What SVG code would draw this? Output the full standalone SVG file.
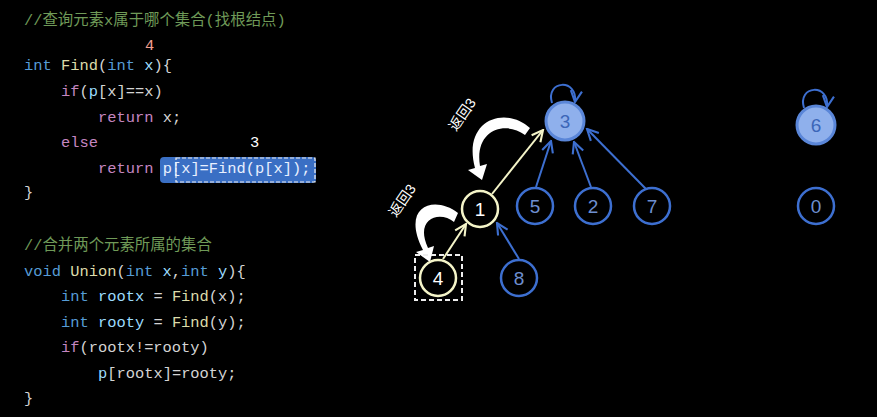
<svg xmlns="http://www.w3.org/2000/svg" width="877" height="417" viewBox="0 0 877 417">
<style>
.c{font-family:"Liberation Mono","Noto Sans CJK SC",monospace;font-size:15.4px;fill:#d4d4d4}
.cm{fill:#6f9a58}.k{fill:#569cd6}.f{fill:#c586c0}.fn{fill:#dcdcaa}.v{fill:#9cdcfe}
.n{font-family:"Liberation Sans",sans-serif;font-size:19px;text-anchor:middle}
.bn circle{fill:#000;stroke:#3d6fd0;stroke-width:2.5}
.bn text{fill:#6e8fd0}
.yn circle{fill:#000;stroke:#f4f4c8;stroke-width:2.5}
.yn text{fill:#fff}
.lbl{font-family:"Liberation Sans","Noto Sans CJK SC",sans-serif;font-size:14px;fill:#fff}
</style>
<defs>
<marker id="ab" viewBox="0 0 10 10" refX="9" refY="5" markerWidth="7" markerHeight="7" orient="auto"><path d="M1,1 L9,5 L1,9" fill="none" stroke="#3d6fd0" stroke-width="1.5"/></marker>
<marker id="ay" viewBox="0 0 10 10" refX="9" refY="5" markerWidth="7" markerHeight="7" orient="auto"><path d="M1,1 L9,5 L1,9" fill="none" stroke="#f4f4c8" stroke-width="1.5"/></marker>
</defs>
<rect width="877" height="417" fill="#000"/>
<g id="code">
<rect x="160" y="157" width="156" height="26" rx="4" fill="#3a6fc4"/>
<rect x="176" y="158" width="139" height="24" fill="none" stroke="#eee" stroke-width="1.2" stroke-dasharray="4,2"/>
<text class="c cm" x="24" y="25">//查询元素x属于哪个集合(找根结点)</text>
<text class="c" x="145" y="50" fill="#f08a80" style="fill:#f4a090">4</text>
<text class="c" x="24" y="70"><tspan class="k">int</tspan> <tspan class="fn">Find</tspan>(<tspan class="k">int</tspan> <tspan class="v">x</tspan>){</text>
<text class="c" x="61" y="96"><tspan class="f">if</tspan>(<tspan class="v">p</tspan>[x]==x)</text>
<text class="c" x="98" y="122"><tspan class="f">return</tspan> x;</text>
<text class="c" x="61" y="147"><tspan class="f">else</tspan></text>
<text class="c" x="250" y="147" style="fill:#fff">3</text>
<text class="c" x="98" y="173"><tspan class="f">return</tspan> <tspan style="fill:#e8f0ff">p[x]=Find(p[x]);</tspan></text>
<text class="c" x="24" y="197">}</text>
<text class="c cm" x="24" y="250">//合并两个元素所属的集合</text>
<text class="c" x="24" y="276"><tspan class="k">void</tspan> <tspan class="fn">Union</tspan>(<tspan class="k">int</tspan> <tspan class="v">x</tspan>,<tspan class="k">int</tspan> <tspan class="v">y</tspan>){</text>
<text class="c" x="61" y="301"><tspan class="k">int</tspan> <tspan class="v">rootx</tspan> = <tspan class="fn">Find</tspan>(x);</text>
<text class="c" x="61" y="327"><tspan class="k">int</tspan> <tspan class="v">rooty</tspan> = <tspan class="fn">Find</tspan>(y);</text>
<text class="c" x="61" y="352"><tspan class="f">if</tspan>(rootx!=rooty)</text>
<text class="c" x="98" y="378"><tspan class="v">p</tspan>[rootx]=rooty;</text>
<text class="c" x="24" y="403">}</text>
</g>
<g id="connectors" fill="none">
<line x1="548" y1="262" x2="548" y2="262" stroke="none"/>
<line x1="536" y1="187" x2="551" y2="141" stroke="#3d6fd0" stroke-width="2" marker-end="url(#ab)"/>
<line x1="591" y1="187" x2="574" y2="142" stroke="#3d6fd0" stroke-width="2" marker-end="url(#ab)"/>
<line x1="646" y1="189" x2="587" y2="129" stroke="#3d6fd0" stroke-width="2" marker-end="url(#ab)"/>
<line x1="519" y1="259" x2="497" y2="223" stroke="#3d6fd0" stroke-width="2" marker-end="url(#ab)"/>
<line x1="443" y1="259" x2="466" y2="224" stroke="#f4f4c8" stroke-width="2" marker-end="url(#ay)"/>
<line x1="492" y1="194" x2="543" y2="130" stroke="#f4f4c8" stroke-width="2" marker-end="url(#ay)"/>
<path d="M552,103 C545,80 578,78 575,102" stroke="#3d6fd0" stroke-width="2" marker-end="url(#ab)"/>
<path d="M804,108 C797,85 830,83 827,107" stroke="#3d6fd0" stroke-width="2" marker-end="url(#ab)"/>
</g>
<g id="curves">
<path d="M530,128 C505,105 462,120 475,168 L468,170 L482,180 L487,164 L480,166 C474,130 505,120 525,135 Z" fill="#fff"/>
<path d="M458,213 C435,195 400,205 423,250 L416,252 L430,262 L434,246 L428,248 C414,218 440,210 454,222 Z" fill="#fff"/>
<text class="lbl" transform="translate(456,132) rotate(-55)">返回3</text>
<text class="lbl" transform="translate(396,218) rotate(-55)">返回3</text>
</g>
<g id="n3"><circle cx="565" cy="121" r="19" fill="#8fb0ec" stroke="#5a86d8" stroke-width="3"/><text class="n" x="565" y="128" fill="#3c66b8">3</text></g>
<g id="n6"><circle cx="816" cy="125" r="19" fill="#8fb0ec" stroke="#5a86d8" stroke-width="3"/><text class="n" x="816" y="132" fill="#3c66b8">6</text></g>
<g id="n1" class="yn"><circle cx="480" cy="209" r="18"/><text class="n" x="480" y="216">1</text></g>
<g id="n4" class="yn"><rect x="415" y="255" width="47" height="45" fill="none" stroke="#eee" stroke-width="2" stroke-dasharray="5,3"/><circle cx="438" cy="278" r="18"/><text class="n" x="438" y="285">4</text></g>
<g id="n8" class="bn"><circle cx="519" cy="278" r="18"/><text class="n" x="519" y="285">8</text></g>
<g id="n5" class="bn"><circle cx="535" cy="206" r="18"/><text class="n" x="535" y="213">5</text></g>
<g id="n2" class="bn"><circle cx="593" cy="206" r="18"/><text class="n" x="593" y="213">2</text></g>
<g id="n7" class="bn"><circle cx="652" cy="206" r="18"/><text class="n" x="652" y="213">7</text></g>
<g id="n0" class="bn"><circle cx="816" cy="206" r="18"/><text class="n" x="816" y="213">0</text></g>
</svg>
